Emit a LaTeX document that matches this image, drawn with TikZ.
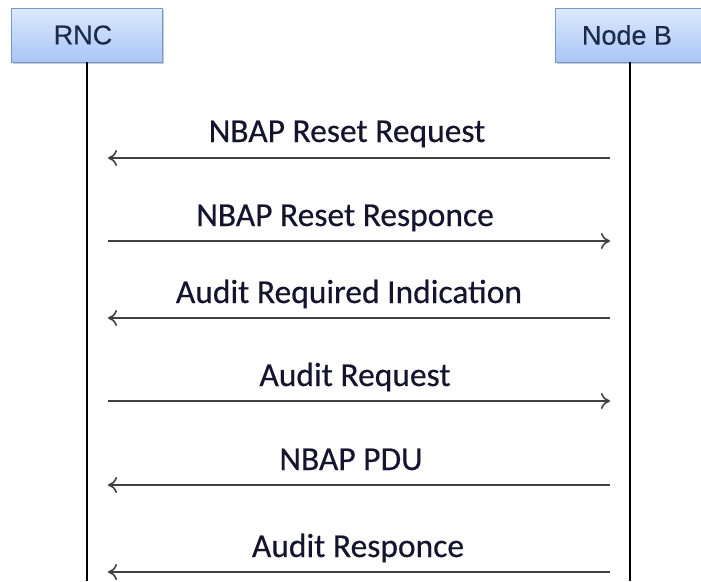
\documentclass[tikz,border=0pt]{standalone}
\usepackage{fontspec}
\setmainfont{Carlito}
\newfontfamily\msgfont[FakeBold=0.4]{Carlito}
\newfontfamily\boxfont[FakeBold=0.3]{Liberation Sans}
\usetikzlibrary{arrows.meta,shadows}
\definecolor{boxtop}{HTML}{DDE9FD}
\definecolor{boxbot}{HTML}{A8C6F6}
\definecolor{boxline}{HTML}{7398CC}
\definecolor{boxtext}{HTML}{1E2A4A}
\definecolor{msgtext}{HTML}{14142E}
\tikzset{
  entity/.style={draw=boxline, line width=0.8pt, top color=boxtop, bottom color=boxbot,
    inner sep=0pt, minimum height=54pt,
    drop shadow={shadow xshift=1.5pt, shadow yshift=-2pt, fill=black!40, opacity=0.5}},
  entitytext/.style={font=\boxfont\fontsize{27}{30}\selectfont, text=boxtext, inner sep=0pt},
  lifeline/.style={line width=1.3pt, black},
  msg/.style={line width=1.6pt, black!75, -{To[length=9pt,width=16pt,line width=1.6pt]}},
  msglabel/.style={font=\msgfont\fontsize{33.5}{38}\selectfont, text=msgtext, anchor=base, inner sep=0pt}
}
\begin{document}
\begin{tikzpicture}[x=1pt,y=-1pt]
\useasboundingbox[fill=white] (0,0) rectangle (701,581);
\node[entity, minimum width=151pt] (rnc) at (86.5,35) {};
\node[entity, minimum width=152pt] (nodeb) at (631,35) {};
\node[entitytext] (rnctext) at (83,35) {RNC};
\node[entitytext] (nodebtext) at (627,35) {Node B};
\coordinate (rncend) at (87,581);
\coordinate (nbend) at (630,581);
\draw[lifeline] (rnc.south -| rncend) -- (rncend);
\draw[lifeline] (nodeb.south -| nbend) -- (nbend);
% message end points
\coordinate (L1) at (108,158); \coordinate (R1) at (610,158);
\coordinate (L2) at (108,241); \coordinate (R2) at (610,241);
\coordinate (L3) at (108,318); \coordinate (R3) at (610,318);
\coordinate (L4) at (108,401); \coordinate (R4) at (610,401);
\coordinate (L5) at (108,485); \coordinate (R5) at (610,485);
\coordinate (L6) at (108,572); \coordinate (R6) at (610,572);
\draw[msg] (R1) -- (L1);
\draw[msg] (L2) -- (R2);
\draw[msg] (R3) -- (L3);
\draw[msg] (L4) -- (R4);
\draw[msg] (R5) -- (L5);
\draw[msg] (R6) -- (L6);
\node[msglabel] (t1) at (347,142) {NBAP Reset Request};
\node[msglabel] (t2) at (345,226) {NBAP Reset Responce};
\node[msglabel] (t3) at (349,303) {Audit Required Indication};
\node[msglabel] (t4) at (355,386) {Audit Request};
\node[msglabel] (t5) at (351,470) {NBAP PDU};
\node[msglabel] (t6) at (358,557) {Audit Responce};
\end{tikzpicture}
\end{document}
